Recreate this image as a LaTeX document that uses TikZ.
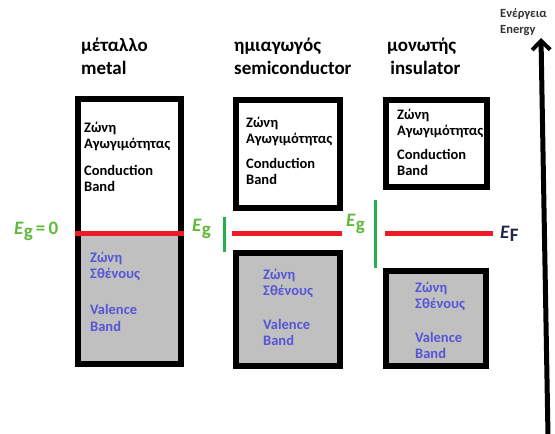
\documentclass[tikz,border=0pt]{standalone}
\usepackage{fontspec}
\setmainfont{Carlito}
\usetikzlibrary{arrows.meta}
\definecolor{bandgray}{RGB}{192,192,192}
\definecolor{fermired}{RGB}{237,28,36}
\definecolor{gapgreen}{RGB}{34,177,76}
\definecolor{valblue}{RGB}{85,85,215}
\definecolor{eglabel}{RGB}{95,185,60}
\definecolor{efnavy}{RGB}{30,40,70}
\tikzset{
  bandbox/.style={draw=black, line width=6pt, inner sep=0pt, outer sep=0pt},
  condbox/.style={bandbox, fill=white},
  valbox/.style={bandbox, fill=bandgray},
  boxtext/.style={anchor=west, align=left, inner sep=0pt, font=\fontsize{14.5}{16.5}\selectfont\bfseries},
  valtext/.style={boxtext, text=valblue},
  title/.style={anchor=west, align=left, inner sep=0pt, font=\fontsize{19}{23}\selectfont\bfseries},
  fermi/.style={draw=fermired, line width=5pt},
  gap/.style={draw=gapgreen, line width=3pt},
  eglbl/.style={anchor=west, inner sep=0pt, text=eglabel, font=\fontsize{19}{21}\selectfont\bfseries},
}
\newcommand{\egsym}{\textit{E}\raisebox{-0.35ex}{g}}
\begin{document}
\begin{tikzpicture}[x=1pt,y=-1pt]
\useasboundingbox (0,0) rectangle (555,434);
% titles
\node[title] (tmetal) at (81,56.5) {μέταλλο\\metal};
\node[title] (tsemi) at (234,56.5) {ημιαγωγός\\semiconductor};
\node[title] (tins) at (387,56.5) {μονωτής\\\,insulator};
% metal
\node[bandbox, fill=white, minimum width=103pt, minimum height=265pt] (metal) at (129.5,231.5) {};
\fill[bandgray] (78,233) rectangle (181,364);
\draw[line width=6pt] (metal.north west) rectangle (metal.south east);
% semiconductor
\node[condbox, minimum width=104pt, minimum height=108pt] (scond) at (288,154) {};
\node[valbox, minimum width=104pt, minimum height=113pt] (sval) at (288,309.5) {};
% insulator
\node[condbox, minimum width=101pt, minimum height=87pt] (icond) at (436.5,143.5) {};
\node[valbox, minimum width=100pt, minimum height=95pt] (ival) at (436,318.5) {};
% texts
\node[boxtext] (m1) at (84,136.5) {Ζώνη\\Αγωγιμότητας};
\node[boxtext] (m2) at (84,178.5) {Conduction\\Band};
\node[valtext] (m3) at (90,266.5) {Ζώνη\\Σθένους};
\node[valtext] (m4) at (90,318) {Valence\\Band};
\node[boxtext] (s1) at (246,131.5) {Ζώνη\\Αγωγιμότητας};
\node[boxtext] (s2) at (246,171.5) {Conduction\\Band};
\node[valtext] (s3) at (263,283.5) {Ζώνη\\Σθένους};
\node[valtext] (s4) at (263,332.5) {Valence\\Band};
\node[boxtext] (i1) at (397,123.5) {Ζώνη\\Αγωγιμότητας};
\node[boxtext] (i2) at (397,162.5) {Conduction\\Band};
\node[valtext] (i3) at (415,296.5) {Ζώνη\\Σθένους};
\node[valtext] (i4) at (415,345.5) {Valence\\Band};
% Fermi levels
\coordinate (fm1) at (75,233); \coordinate (fm2) at (184,233);
\coordinate (fs1) at (232,233); \coordinate (fs2) at (342,233);
\coordinate (fi1) at (385,233); \coordinate (fi2) at (493,233);
\draw[fermi] (fm1) -- (fm2);
\draw[fermi] (fs1) -- (fs2);
\draw[fermi] (fi1) -- (fi2);
% gaps
\coordinate (gs1) at (224,217); \coordinate (gs2) at (224,252);
\coordinate (gi1) at (375,200); \coordinate (gi2) at (375,268);
\draw[gap] (gs1) -- (gs2);
\draw[gap] (gi1) -- (gi2);
% labels
\node[eglbl] (eg0) at (14,231) {\egsym\,=\,0};
\node[eglbl] (egs) at (192,229) {\egsym};
\node[eglbl] (egi) at (346,224) {\egsym};
\node[eglbl, text=efnavy] (ef) at (500,234) {\textit{E}\raisebox{-0.35ex}{F}};
% energy axis
\node[anchor=west, align=left, inner sep=0pt, font=\fontsize{12.5}{16}\selectfont\bfseries, text=black!80] (elbl) at (500,22) {Ενέργεια\\Energy};
\coordinate (ax0) at (548,436);
\coordinate (ax1) at (541,38);
\draw[line width=5pt, -{Straight Barb[length=9pt,width=18pt,line width=4pt]}] (ax0) -- (ax1);
\end{tikzpicture}
\end{document}
